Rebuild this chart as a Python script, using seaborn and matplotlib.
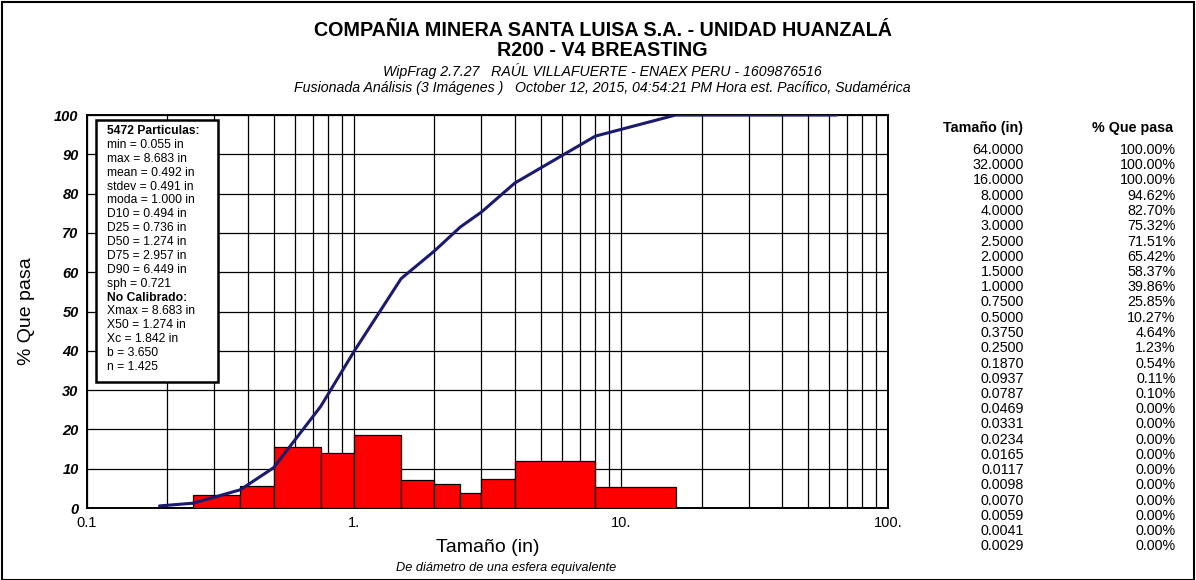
import numpy as np
import pandas as pd
import seaborn as sns
import matplotlib.pyplot as plt
from matplotlib.patches import Rectangle
from matplotlib.ticker import FixedLocator, LogLocator, NullFormatter

# Sieve table (as printed on the right)
sizes = [64.0, 32.0, 16.0, 8.0, 4.0, 3.0, 2.5, 2.0, 1.5, 1.0, 0.75, 0.5, 0.375, 0.25,
         0.187, 0.0937, 0.0787, 0.0469, 0.0331, 0.0234, 0.0165, 0.0117, 0.0098,
         0.0070, 0.0059, 0.0041, 0.0029]
size_labels = ['64.0000', '32.0000', '16.0000', '8.0000', '4.0000', '3.0000', '2.5000',
               '2.0000', '1.5000', '1.0000', '0.7500', '0.5000', '0.3750', '0.2500',
               '0.1870', '0.0937', '0.0787', '0.0469', '0.0331', '0.0234', '0.0165',
               '0.0117', '0.0098', '0.0070', '0.0059', '0.0041', '0.0029']
passing = [100.00, 100.00, 100.00, 94.62, 82.70, 75.32, 71.51, 65.42, 58.37, 39.86,
           25.85, 10.27, 4.64, 1.23, 0.54, 0.11, 0.10, 0.00, 0.00, 0.00, 0.00, 0.00,
           0.00, 0.00, 0.00, 0.00, 0.00]

# Cumulative curve points (0.187 in up to 64 in)
curve_size = [0.187, 0.25, 0.375, 0.5, 0.75, 1.0, 1.5, 2.0, 2.5, 3.0, 4.0, 8.0, 16.0, 32.0, 64.0]
curve_pass = [0.54, 1.23, 4.64, 10.27, 25.85, 39.86, 58.37, 65.42, 71.51, 75.32, 82.70,
              94.62, 100.0, 100.0, 100.0]

# Histogram bins (retained % per size class)
bin_left = [0.25, 0.375, 0.5, 0.75, 1.0, 1.5, 2.0, 2.5, 3.0, 4.0, 8.0]
bin_right = [0.375, 0.5, 0.75, 1.0, 1.5, 2.0, 2.5, 3.0, 4.0, 8.0, 16.0]
bin_pct = [3.41, 5.63, 15.58, 14.01, 18.51, 7.05, 6.09, 3.81, 7.38, 11.92, 5.38]

stats = ['5472 Particulas:', 'min = 0.055 in', 'max = 8.683 in', 'mean = 0.492 in',
         'stdev = 0.491 in', 'moda = 1.000 in', 'D10 = 0.494 in', 'D25 = 0.736 in',
         'D50 = 1.274 in', 'D75 = 2.957 in', 'D90 = 6.449 in', 'sph = 0.721',
         'No Calibrado:', 'Xmax = 8.683 in', 'X50 = 1.274 in', 'Xc = 1.842 in',
         'b = 3.650', 'n = 1.425']
stats_bold = {'5472 Particulas:', 'No Calibrado:'}

sns.set_style('white')
plt.rcParams['font.family'] = ['Liberation Sans', 'DejaVu Sans']
plt.rcParams['text.color'] = 'black'
plt.rcParams['axes.labelcolor'] = 'black'
plt.rcParams['xtick.color'] = 'black'
plt.rcParams['ytick.color'] = 'black'

fig = plt.figure(figsize=(11.96, 5.8), dpi=100)
ax = fig.add_axes([0.0727, 0.1241, 0.67, 0.6776])

# histogram bars
widths = [r - l for l, r in zip(bin_left, bin_right)]
ax.bar(bin_left, bin_pct, width=widths, align='edge', color='#ff0000',
       edgecolor='black', linewidth=0.9, zorder=3)

# cumulative passing curve
df_curve = pd.DataFrame({'size': curve_size, 'pass': curve_pass})
sns.lineplot(data=df_curve, x='size', y='pass', ax=ax, color='#1a1a6e', lw=2.2,
             zorder=4, estimator=None, sort=False)

ax.set_xscale('log')
ax.set_xlim(0.1, 100)
ax.set_ylim(0, 100)
ax.xaxis.set_major_locator(FixedLocator([0.1, 1, 10, 100]))
ax.xaxis.set_minor_locator(LogLocator(base=10, subs=np.arange(2, 10)))
ax.xaxis.set_minor_formatter(NullFormatter())
ax.set_xticks([0.1, 1, 10, 100])
ax.set_xticklabels(['0.1', '1.', '10.', '100.'], fontsize=10.5)
ax.set_yticks(np.arange(0, 101, 10))
ax.set_yticklabels([str(v) for v in range(0, 101, 10)], fontsize=10.5,
                   style='italic', fontweight='bold')
ax.grid(True, which='both', axis='x', color='black', lw=0.9, zorder=1)
ax.grid(True, which='major', axis='y', color='black', lw=0.9, zorder=1)
ax.set_axisbelow(True)
ax.tick_params(axis='both', which='both', length=0, pad=6)
for s in ax.spines.values():
    s.set_color('black')
    s.set_linewidth(1.4)

ax.set_xlabel('')
ax.set_ylabel('% Que pasa', fontsize=14, labelpad=14)
fig.text(0.4075, 0.0552, 'Tamaño (in)', ha='center', va='center', fontsize=14)
fig.text(0.4235, 0.0207, 'De diámetro de una esfera equivalente', ha='center',
         va='center', fontsize=9.2, style='italic')

# statistics box
ax.add_patch(Rectangle((0.011, 0.3206), 0.1525, 0.6664, transform=ax.transAxes,
                       facecolor='white', edgecolor='black', lw=1.8, zorder=5))
for i, line in enumerate(stats):
    ax.text(0.025, 0.959 - i * 0.0353, line, transform=ax.transAxes, fontsize=8.7,
            fontweight='bold' if line in stats_bold else 'normal',
            va='center', ha='left', zorder=6)

# titles
fig.text(0.504, 0.948, 'COMPAÑIA MINERA SANTA LUISA S.A. - UNIDAD HUANZALÁ',
         ha='center', va='center', fontsize=14.2, fontweight='bold')
fig.text(0.504, 0.913, 'R200 - V4 BREASTING', ha='center', va='center',
         fontsize=14.2, fontweight='bold')
fig.text(0.504, 0.877, 'WipFrag 2.7.27   RAÚL VILLAFUERTE - ENAEX PERU - 1609876516',
         ha='center', va='center', fontsize=10.2, style='italic')
fig.text(0.504, 0.848, 'Fusionada Análisis (3 Imágenes )   October 12, 2015, 04:54:21 PM '
         'Hora est. Pacífico, Sudamérica', ha='center', va='center',
         fontsize=10.2, style='italic')

# right-hand table
fig.text(0.822, 0.779, 'Tamaño (in)', ha='center', va='center', fontsize=10.3,
         fontweight='bold')
fig.text(0.947, 0.779, '% Que pasa', ha='center', va='center', fontsize=10.3,
         fontweight='bold')
row_h = 15.25 / 580
for i, (lab, p) in enumerate(zip(size_labels, passing)):
    y = 1 - 150 / 580 - i * row_h
    fig.text(0.856, y, lab, ha='right', va='center', fontsize=10.3)
    fig.text(0.983, y, f'{p:.2f}%', ha='right', va='center', fontsize=10.3)

# outer frame
fig.patches.append(Rectangle((0.002, 0.0), 0.996, 0.996, transform=fig.transFigure,
                             fill=False, edgecolor='black', lw=1.5))

fig.savefig('out.png', dpi=100)
